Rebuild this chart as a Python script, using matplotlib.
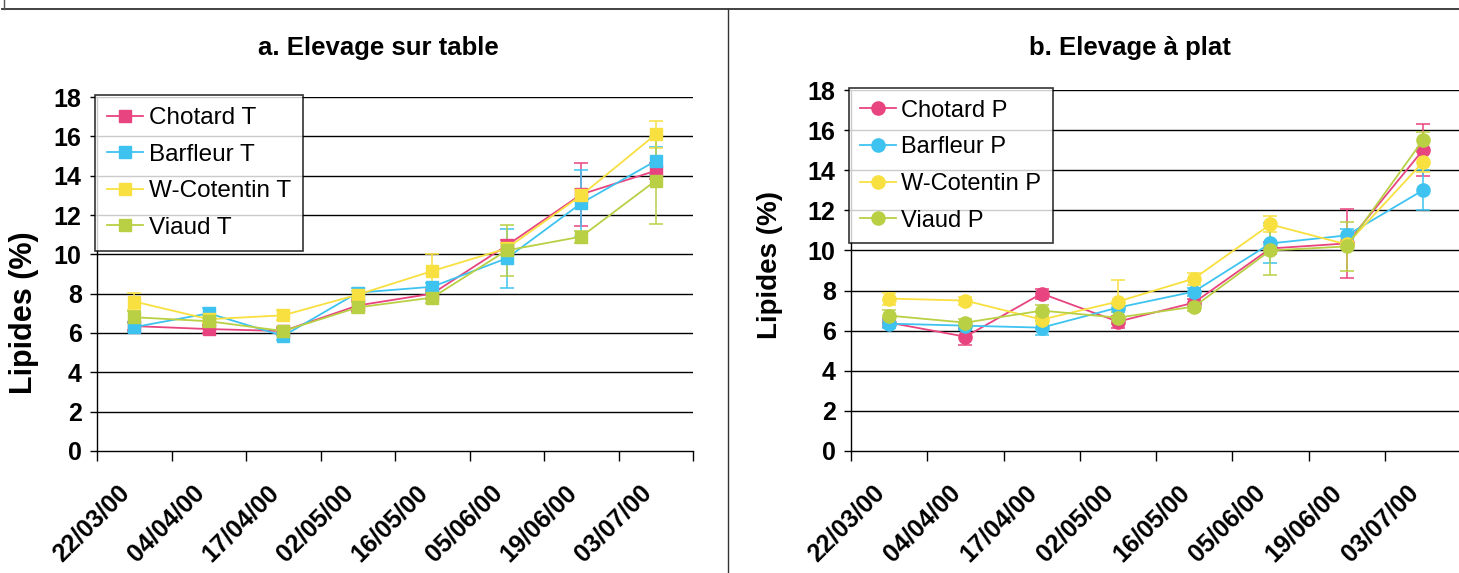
import matplotlib
matplotlib.use("Agg")
import matplotlib.pyplot as plt
import matplotlib.transforms as mtransforms
from matplotlib.lines import Line2D
import numpy as np

plt.rcParams['font.family'] = ['Liberation Sans', 'DejaVu Sans']

dates = ['22/03/00', '04/04/00', '17/04/00', '02/05/00',
         '16/05/00', '05/06/00', '19/06/00', '03/07/00']

# a. elevage sur table
chotard_t = [6.35, 6.2, 6.1, 7.4, 8.0, 10.45, 13.05, 14.25]
chotard_t_err = [0.2, 0.2, 0.15, 0.3, 0.25, 0.3, 1.6, 0.4]
barfleur_t = [6.3, 7.0, 5.85, 8.05, 8.35, 9.8, 12.6, 14.75]
barfleur_t_err = [0.25, 0.25, 0.2, 0.25, 0.2, 1.5, 1.7, 0.7]
wcot_t = [7.6, 6.7, 6.9, 7.95, 9.15, 10.3, 13.0, 16.1]
wcot_t_err = [0.45, 0.2, 0.25, 0.2, 0.85, 0.3, 0.3, 0.7]
viaud_t = [6.8, 6.6, 6.1, 7.3, 7.8, 10.2, 10.9, 13.75]
viaud_t_err = [0.3, 0.3, 0.2, 0.3, 0.25, 1.3, 0.3, 2.2]

# b. elevage a plat
chotard_p = [6.4, 5.7, 7.85, 6.45, 7.4, 10.1, 10.35, 15.0]
chotard_p_err = [0.2, 0.4, 0.25, 0.3, 0.2, 0.3, 1.7, 1.3]
barfleur_p = [6.35, 6.25, 6.15, 7.15, 7.95, 10.35, 10.75, 13.0]
barfleur_p_err = [0.2, 0.2, 0.35, 0.2, 0.2, 1.0, 0.3, 1.0]
wcot_p = [7.6, 7.5, 6.55, 7.45, 8.6, 11.3, 10.3, 14.4]
wcot_p_err = [0.3, 0.2, 0.2, 1.1, 0.3, 0.4, 0.2, 0.5]
viaud_p = [6.75, 6.4, 7.0, 6.65, 7.2, 10.0, 10.2, 15.5]
viaud_p_err = [0.3, 0.2, 0.3, 0.3, 0.2, 1.2, 1.2, 0.4]

colors = ['#E8447F', '#3EC3F0', '#F8E040', '#B9D045']

W, H = 1459, 573
fig = plt.figure(figsize=(W / 100, H / 100), dpi=100)


def px(x0, y0, x1, y1):
    # pixel box -> figure fraction
    return [x0 / W, 1 - y1 / H, (x1 - x0) / W, (y1 - y0) / H]


def panel(ax, series, labels, marker, ms, legsize, legspace):
    x = np.arange(len(dates)) + 0.5
    for (vals, err), lab, c in zip(series, labels, colors):
        ax.errorbar(x, vals, yerr=err, color=c, lw=1.3, marker=marker, ms=ms,
                    mec=c, mfc=c, elinewidth=1.1, capsize=5, capthick=1.1,
                    label=lab, zorder=3)
    ax.set_xlim(0, len(dates))
    ax.set_ylim(0, 18)
    ax.set_yticks(np.arange(0, 19, 2))
    ax.set_yticklabels([str(v) for v in range(0, 19, 2)],
                       fontsize=18, fontweight='bold')
    for v in range(2, 19, 2):
        ax.axhline(v, color='black', lw=1.0, zorder=1)
    ax.set_xticks(np.arange(0, len(dates) + 1))
    ax.set_xticklabels([])
    ax.set_xticks(x, minor=True)
    ax.set_xticklabels(dates, minor=True, rotation=45, ha='right', va='top',
                       fontsize=18, fontweight='bold')
    shift = mtransforms.ScaledTranslation(5 / 100, 0, fig.dpi_scale_trans)
    for t in ax.get_xticklabels(minor=True):
        t.set_transform(t.get_transform() + shift)
    ax.tick_params(axis='x', which='minor', length=0, pad=21)
    ax.tick_params(axis='x', which='major', length=7, width=1, direction='out')
    ax.tick_params(axis='y', length=5, width=1, pad=6)
    for s in ['top', 'right']:
        ax.spines[s].set_visible(False)
    for s in ['left', 'bottom']:
        ax.spines[s].set_linewidth(1.0)
    handles = [Line2D([], [], color=c, lw=1.3, marker=marker, ms=ms, mfc=c, mec=c)
               for c in colors]
    leg = ax.legend(handles, labels, loc='upper left', bbox_to_anchor=(-0.004, 1.006),
                    fontsize=legsize, frameon=True, fancybox=False, edgecolor='black',
                    handlelength=1.5, handletextpad=0.22, labelspacing=legspace,
                    borderpad=0.5, borderaxespad=0)
    leg.get_frame().set_linewidth(1.2)
    leg.set_zorder(5)


ax1 = fig.add_axes(px(97, 97, 693, 451))
panel(ax1,
      [(chotard_t, chotard_t_err), (barfleur_t, barfleur_t_err),
       (wcot_t, wcot_t_err), (viaud_t, viaud_t_err)],
      ['Chotard T', 'Barfleur T', 'W-Cotentin T', 'Viaud T'], 's', 8.5, 17.5, 0.6)
ax1.set_ylabel('Lipides (%)', fontsize=22, fontweight='bold')
ax1.yaxis.set_label_coords(-0.097, 0.39)

ax2 = fig.add_axes(px(851, 90, 1461, 451))
panel(ax2,
      [(chotard_p, chotard_p_err), (barfleur_p, barfleur_p_err),
       (wcot_p, wcot_p_err), (viaud_p, viaud_p_err)],
      ['Chotard P', 'Barfleur P', 'W-Cotentin P', 'Viaud P'], 'o', 9.5, 17, 0.62)
ax2.set_ylabel('Lipides (%)', fontsize=20, fontweight='bold')
ax2.yaxis.set_label_coords(-0.112, 0.515)

fig.text(378 / W, 1 - 48 / H, 'a. Elevage sur table', fontsize=18.5,
         fontweight='bold', ha='center', va='center')
fig.text(1130 / W, 1 - 48 / H, 'b. Elevage à plat', fontsize=18.5,
         fontweight='bold', ha='center', va='center')

# frame lines of the figure
fig.add_artist(Line2D([2 / W, 1], [1 - 9 / H, 1 - 9 / H], color='#333333', lw=1.3))
fig.add_artist(Line2D([4 / W, 4 / W], [1 - 9 / H, 1], color='#555555', lw=1.0))
fig.add_artist(Line2D([728 / W, 728 / W], [0, 1 - 9 / H], color='#333333', lw=1.0))

fig.savefig('out.png', dpi=100)
